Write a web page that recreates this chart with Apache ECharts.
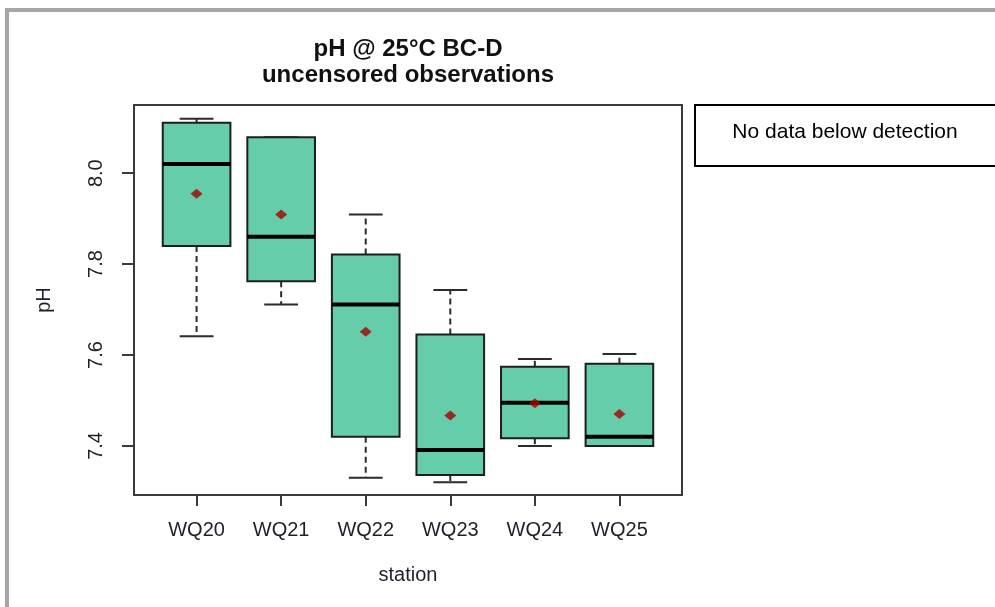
<!DOCTYPE html>
<html>
<head>
<meta charset="utf-8">
<script src="https://cdn.jsdelivr.net/npm/echarts@6/dist/echarts.min.js"></script>
<style>
  html, body { margin: 0; padding: 0; background: #ffffff; }
  #chart { width: 995px; height: 607px; }
</style>
</head>
<body>
<div id="chart"></div>
<script>
// pH box plots per station (five-number summary plus mean)
var stations    = ['WQ20', 'WQ21', 'WQ22', 'WQ23', 'WQ24', 'WQ25'];
var whiskerLow  = [7.641, 7.711, 7.330, 7.320, 7.400, 7.400];
var quartile1   = [7.840, 7.762, 7.420, 7.336, 7.417, 7.400];
var medians     = [8.020, 7.860, 7.711, 7.391, 7.495, 7.420];
var quartile3   = [8.111, 8.079, 7.821, 7.645, 7.574, 7.581];
var whiskerHigh = [8.120, 8.079, 7.909, 7.743, 7.591, 7.602];
var means       = [7.955, 7.909, 7.651, 7.467, 7.494, 7.470];
var yTicks      = [7.4, 7.6, 7.8, 8.0];
var noteText    = 'No data below detection';

var FONT = '"Liberation Sans", Arial, sans-serif';
var positions = stations.map(function (s, i) { return i + 1; });

var boxData = stations.map(function (s, i) {
  return [i + 1, whiskerLow[i], quartile1[i], medians[i], quartile3[i], whiskerHigh[i]];
});
var meanData = stations.map(function (s, i) { return [i + 1, means[i]]; });

function renderBox(params, api) {
  var x = api.value(0);
  var lo = api.coord([x, api.value(1)]);
  var q1 = api.coord([x, api.value(2)]);
  var md = api.coord([x, api.value(3)]);
  var q3 = api.coord([x, api.value(4)]);
  var hi = api.coord([x, api.value(5)]);
  var boxW = api.size([0.8, 0])[0];
  var capW = api.size([0.4, 0])[0];
  var cx = lo[0];
  var dark = '#2b2b2b';
  return {
    type: 'group',
    children: [
      { type: 'line', shape: { x1: cx, y1: q3[1], x2: cx, y2: hi[1] },
        style: { stroke: dark, lineWidth: 2, lineDash: [6, 4] } },
      { type: 'line', shape: { x1: cx, y1: q1[1], x2: cx, y2: lo[1] },
        style: { stroke: dark, lineWidth: 2, lineDash: [6, 4] } },
      { type: 'line', shape: { x1: cx - capW / 2, y1: hi[1], x2: cx + capW / 2, y2: hi[1] },
        style: { stroke: dark, lineWidth: 2 } },
      { type: 'line', shape: { x1: cx - capW / 2, y1: lo[1], x2: cx + capW / 2, y2: lo[1] },
        style: { stroke: dark, lineWidth: 2 } },
      { type: 'rect', shape: { x: cx - boxW / 2, y: q3[1], width: boxW, height: q1[1] - q3[1] },
        style: { fill: '#66cdaa', stroke: '#1e1e1e', lineWidth: 2 } },
      { type: 'line', shape: { x1: cx - boxW / 2, y1: md[1], x2: cx + boxW / 2, y2: md[1] },
        style: { stroke: '#000000', lineWidth: 4 } }
    ]
  };
}

var chart = echarts.init(document.getElementById('chart'), null, { renderer: 'canvas' });
chart.setOption({
  animation: false,
  backgroundColor: '#ffffff',
  title: {
    text: 'pH @ 25°C BC-D\nuncensored observations',
    left: 408,
    top: 36,
    padding: 0,
    textAlign: 'center',
    textStyle: { fontFamily: FONT, fontWeight: 'bold', fontSize: 24, lineHeight: 26, color: '#111111' }
  },
  grid: {
    left: 134, top: 105, width: 548, height: 390,
    show: true, borderColor: '#3a3a3a', borderWidth: 2, backgroundColor: 'transparent'
  },
  xAxis: {
    type: 'value', min: 0.26, max: 6.74,
    splitLine: { show: false },
    axisLine: { show: false },
    axisTick: { show: true, customValues: positions, length: 11, lineStyle: { color: '#3a3a3a', width: 2 } },
    axisLabel: {
      customValues: positions, margin: 25,
      fontFamily: FONT, fontSize: 20, color: '#1f1f2a',
      formatter: function (v) { return stations[Math.round(v) - 1] || ''; }
    },
    name: 'station', nameLocation: 'middle', nameGap: 70,
    nameTextStyle: { fontFamily: FONT, fontSize: 20, color: '#1f1f2a' }
  },
  yAxis: {
    type: 'value', min: 7.292, max: 8.150,
    splitLine: { show: false },
    axisLine: { show: false },
    axisTick: { show: true, customValues: yTicks, length: 12, lineStyle: { color: '#3a3a3a', width: 2 } },
    axisLabel: {
      customValues: yTicks, margin: 28, rotate: 90,
      fontFamily: FONT, fontSize: 20, color: '#1f1f2a',
      formatter: function (v) { return v.toFixed(1); }
    },
    name: 'pH', nameLocation: 'middle', nameGap: 80, nameRotate: 90,
    nameTextStyle: { fontFamily: FONT, fontSize: 20, color: '#1f1f2a' }
  },
  series: [
    {
      type: 'custom', name: 'box',
      renderItem: renderBox,
      data: boxData,
      encode: { x: 0, y: [1, 2, 3, 4, 5] },
      z: 2
    },
    {
      type: 'scatter', name: 'mean',
      data: meanData,
      symbol: 'diamond', symbolSize: [12, 10],
      itemStyle: { color: '#a80000' },
      z: 3
    }
  ],
  graphic: [
    { type: 'rect', shape: { x: 7, y: 10, width: 1000, height: 700 },
      style: { fill: 'none', stroke: '#a6a6a6', lineWidth: 4 }, silent: true },
    { type: 'rect', shape: { x: 695, y: 105, width: 320, height: 61 },
      style: { fill: '#ffffff', stroke: '#000000', lineWidth: 2 }, silent: true },
    { type: 'text', x: 845, y: 132,
      style: { text: noteText, fontFamily: FONT, fontSize: 21, fill: '#000000',
               textAlign: 'center', textVerticalAlign: 'middle' }, silent: true }
  ]
});
</script>
</body>
</html>
